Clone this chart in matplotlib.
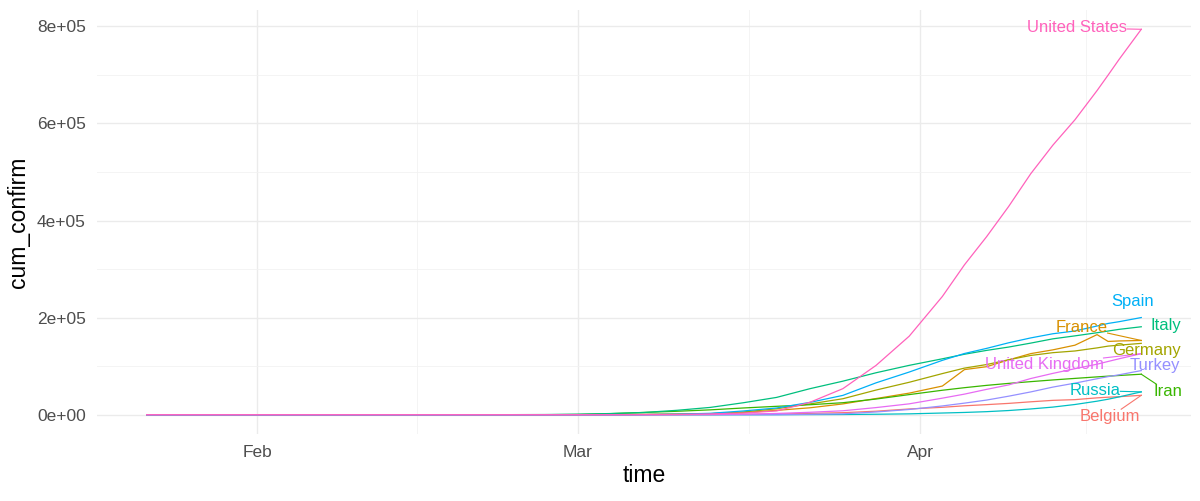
import numpy as np
import pandas as pd
import matplotlib
matplotlib.use("Agg")
import matplotlib.pyplot as plt
import matplotlib.dates as mdates
from matplotlib.ticker import FuncFormatter, FixedLocator

plt.rcParams['font.family'] = ['Liberation Sans', 'DejaVu Sans']

# -----------------------------
# Data (cumulative confirmed cases)
# -----------------------------
dates = pd.to_datetime([
    "2020-01-22", "2020-02-01", "2020-02-15", "2020-02-23", "2020-02-27",
    "2020-03-01", "2020-03-04", "2020-03-07", "2020-03-10", "2020-03-13",
    "2020-03-16", "2020-03-19", "2020-03-22", "2020-03-25", "2020-03-28",
    "2020-03-31", "2020-04-03", "2020-04-05", "2020-04-07", "2020-04-09",
    "2020-04-11", "2020-04-13", "2020-04-15", "2020-04-17", "2020-04-18",
    "2020-04-19", "2020-04-21",
])

belgium = [0, 0, 1, 1, 1, 1, 13, 109, 239, 399, 886, 1486, 2815, 4269, 7284,
           11899, 15348, 18431, 20814, 23403, 26667, 29647, 31119, 34809,
           36138, 37183, 39983]
france = [0, 5, 12, 12, 18, 100, 204, 656, 1209, 2284, 4499, 9043, 14282,
          22304, 33402, 44550, 59105, 93000, 98963, 112950, 125931, 133670,
          143303, 165027, 151000, 152000, 153000]
germany = [0, 5, 16, 16, 21, 79, 196, 670, 1176, 2078, 5795, 12327, 22213,
           32986, 50871, 66885, 84794, 96092, 103374, 113296, 122171, 127854,
           131359, 137698, 141397, 143342, 147065]
iran = [0, 0, 0, 28, 139, 593, 2336, 4747, 7161, 10075, 13938, 17361, 20610,
        24811, 32332, 41495, 50468, 55743, 60500, 64586, 68192, 71686, 74877,
        77995, 79494, 80868, 83505]
italy = [0, 2, 3, 155, 453, 1128, 2502, 4636, 9172, 15113, 24747, 35713,
         53578, 69176, 86498, 101739, 115242, 124632, 132547, 139422, 147577,
         156363, 162488, 168941, 172434, 175925, 181228]
russia = [0, 0, 0, 0, 0, 2, 3, 4, 10, 28, 63, 147, 306, 495, 1036, 1836,
          3548, 4731, 6343, 8672, 11917, 15770, 21102, 27938, 32008, 36793,
          47121]
spain = [0, 0, 2, 2, 13, 45, 165, 400, 1231, 2946, 7798, 13910, 25374, 39885,
         65719, 87956, 112065, 126168, 136675, 148220, 158273, 166831, 172541,
         182816, 188068, 191726, 200210]
turkey = [0, 0, 0, 0, 0, 0, 0, 0, 0, 1, 6, 98, 947, 1872, 5698, 10827, 18135,
          23934, 30217, 38226, 47029, 56956, 65111, 74193, 78546, 82329, 90980]
united_kingdom = [0, 2, 9, 9, 13, 23, 51, 164, 321, 590, 1144, 2642, 5067,
                  8164, 14745, 22453, 34173, 42477, 52279, 61474, 74605, 85206,
                  94845, 104145, 109769, 115314, 125856]
united_states = [1, 7, 13, 15, 15, 68, 118, 319, 605, 1663, 3499, 7786, 25489,
                 53740, 101657, 161807, 243622, 308850, 366667, 429052, 496535,
                 555313, 607670, 667801, 699706, 732197, 794000]

countries = ["Belgium", "France", "Germany", "Iran", "Italy", "Russia",
             "Spain", "Turkey", "United Kingdom", "United States"]
series = [belgium, france, germany, iran, italy, russia, spain, turkey,
          united_kingdom, united_states]

# ggplot hue palette for 10 groups
colors = ["#F8766D", "#D89000", "#A3A500", "#39B600", "#00BF7D", "#00BFC4",
          "#00B0F6", "#9590FF", "#E76BF3", "#FF62BC"]

# label offsets from each last point (days, cases) -- mimics ggrepel layout
label_offsets = {
    "Belgium": (-2.8, -44000),
    "France": (-5.4, 27000),
    "Germany": (0.5, -15000),
    "Iran": (2.4, -36000),
    "Italy": (2.2, 2500),
    "Russia": (-4.2, 2500),
    "Spain": (-0.8, 33000),
    "Turkey": (1.2, 10000),
    "United Kingdom": (-8.8, -23000),
    "United States": (-5.8, 3000),
}

# -----------------------------
# Plot
# -----------------------------
fig = plt.figure(figsize=(12, 5.01), dpi=100)
ax = fig.add_axes([0.0808, 0.1337, 0.9117, 0.8463])

xd = mdates.date2num(dates)
for name, vals, col in zip(countries, series, colors):
    ax.plot(xd, vals, color=col, lw=0.9, solid_joinstyle="round", zorder=3)

# limits with ggplot's 5% expansion
xr = xd.max() - xd.min()
ax.set_xlim(xd.min() - 0.05 * xr, xd.max() + 0.05 * xr)
ymax = max(max(s) for s in series)
ax.set_ylim(-0.05 * ymax, ymax * 1.05)

# labels
texts = []
for name, vals, col in zip(countries, series, colors):
    dx, dy = label_offsets[name]
    t = ax.text(xd[-1] + dx, vals[-1] + dy, name, color=col, fontsize=12,
                ha="center", va="center", zorder=4)
    texts.append((t, xd[-1], vals[-1], col))

# ticks and grid
major_x = mdates.date2num(pd.to_datetime(["2020-02-01", "2020-03-01", "2020-04-01"]))
minor_x = mdates.date2num(pd.to_datetime(["2020-02-15 12:00", "2020-03-16 12:00",
                                          "2020-04-16 00:00"]))
ax.xaxis.set_major_locator(FixedLocator(major_x))
ax.xaxis.set_minor_locator(FixedLocator(minor_x))
ax.set_xticklabels(["Feb", "Mar", "Apr"])

ax.yaxis.set_major_locator(FixedLocator([0, 2e5, 4e5, 6e5, 8e5]))
ax.yaxis.set_minor_locator(FixedLocator([1e5, 3e5, 5e5, 7e5]))
ax.yaxis.set_major_formatter(FuncFormatter(lambda v, p: f"{v:.0e}"))

ax.grid(True, which="major", color="#EBEBEB", lw=1.0, zorder=0)
ax.grid(True, which="minor", color="#F2F2F2", lw=0.6, zorder=0)
ax.set_axisbelow(True)
ax.tick_params(which="both", length=0)
ax.tick_params(axis="x", pad=8, labelsize=12.5, colors="#4D4D4D")
ax.tick_params(axis="y", pad=8, labelsize=12.5, colors="#4D4D4D")
for s in ax.spines.values():
    s.set_visible(False)

ax.set_xlabel("time", fontsize=16.5, labelpad=3)
ax.set_ylabel("cum_confirm", fontsize=16.5, labelpad=5)

# segments from each last point toward the label centre, clipped at its box
fig.canvas.draw()
renderer = fig.canvas.get_renderer()
inv = ax.transData.inverted()
for t, x0, y0, col in texts:
    bb = t.get_window_extent(renderer)
    px, py = ax.transData.transform((x0, y0))
    cx, cy = (bb.x0 + bb.x1) / 2, (bb.y0 + bb.y1) / 2
    vx, vy = px - cx, py - cy
    # scale factor to reach the box edge from the centre
    sx = (bb.width / 2) / abs(vx) if vx != 0 else np.inf
    sy = (bb.height / 2) / abs(vy) if vy != 0 else np.inf
    s = min(sx, sy)
    if s >= 1:
        continue
    ex, ey = cx + vx * s, cy + vy * s
    if np.hypot(px - ex, py - ey) > 11:
        (dx0, dy0) = inv.transform((ex, ey))
        ax.plot([x0, dx0], [y0, dy0], color=col, lw=0.8, zorder=3)

fig.savefig("out.png", dpi=100, facecolor="white")
